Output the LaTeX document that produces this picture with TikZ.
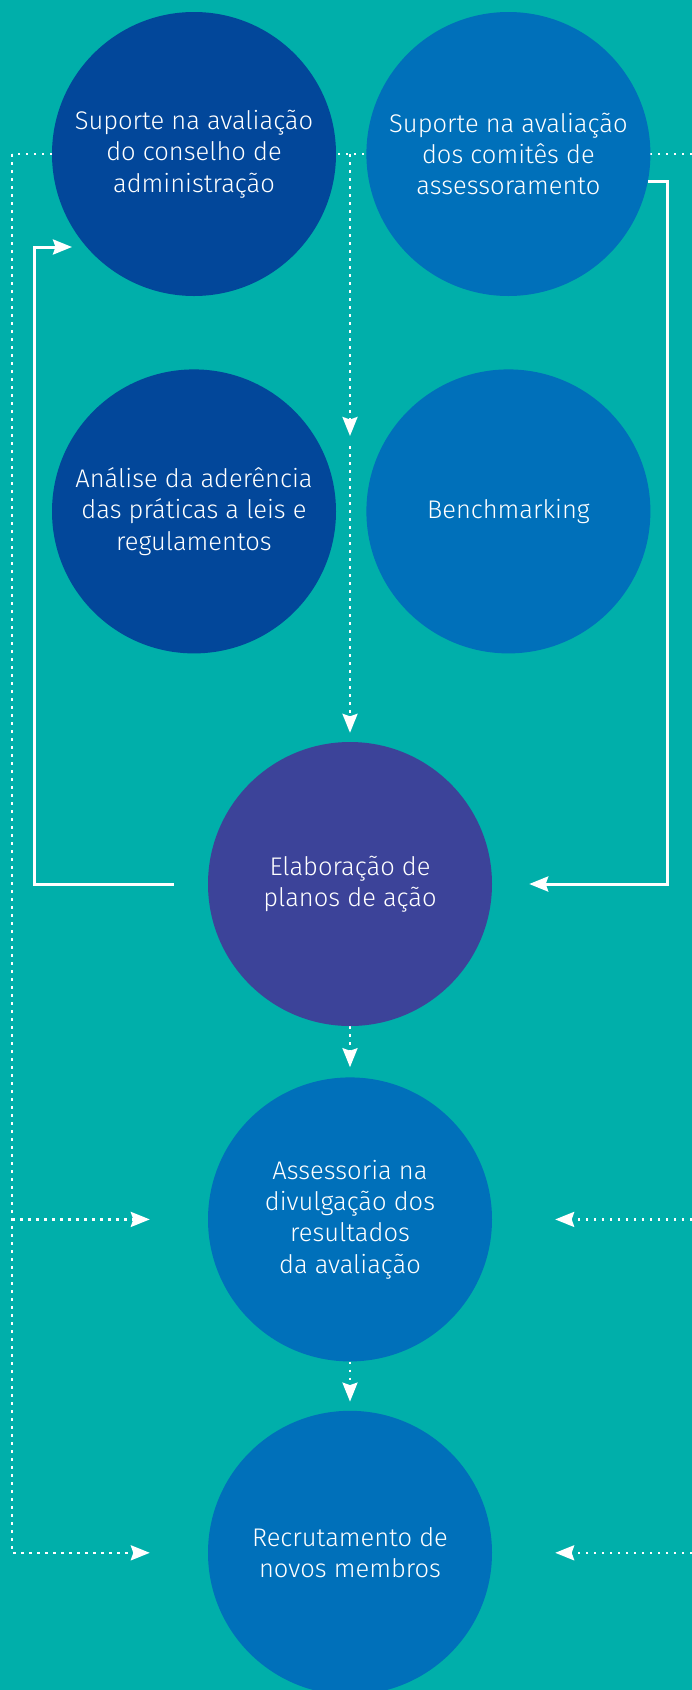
\documentclass[tikz,border=0pt]{standalone}
\usepackage{fontspec}
\setmainfont{Fira Sans}[UprightFont=* Light]
\usepackage{tikz}
\usetikzlibrary{positioning,arrows.meta,backgrounds}
\definecolor{tealBg}{HTML}{00AFAA}
\definecolor{navyBlue}{HTML}{02479A}
\definecolor{midBlue}{HTML}{0070BA}
\definecolor{planPurple}{HTML}{3C4399}
\tikzset{
  stepCircle/.style={
    circle,
    minimum size=284pt,
    inner sep=0pt,
    text=white,
    align=center,
    font=\fontsize{25.5}{31.3}\selectfont
  },
  dotLine/.style={
    draw=white,
    line width=2.5pt,
    dash pattern=on 2.5pt off 5.5pt
  },
  solidLine/.style={
    draw=white,
    line width=3pt
  },
  arrowTip/.style={
    -{Stealth[length=19pt,width=15pt,inset=2.5pt]}
  }
}

\begin{document}
\begin{tikzpicture}[x=1pt,y=-1pt]
        \useasboundingbox (0,0) rectangle (692,1690);

        \node[stepCircle, fill=navyBlue] (boardEval) at (194,154) {Suporte na avaliação\\do conselho de\\administração};
        \node[stepCircle, fill=midBlue, right=30pt of boardEval] (committeeEval) {Suporte na avaliação\\dos comitês de\\assessoramento};
        \node[stepCircle, fill=navyBlue, below=73pt of boardEval] (compliance) {Análise da aderência\\das práticas a leis e\\regulamentos};
        \node[stepCircle, fill=midBlue, below=73pt of committeeEval] (benchmark) {Benchmarking};

        \node[stepCircle, fill=planPurple] (actionPlan) at (350,884) {Elaboração de\\planos de ação};
        \node[stepCircle, fill=midBlue, below=51pt of actionPlan] (disclosure) {Assessoria na\\divulgação dos\\resultados\\da avaliação};
        \node[stepCircle, fill=midBlue, below=49pt of disclosure] (recruiting) {Recrutamento de\\novos membros};

        \coordinate (railLeft) at (12,154);
        \coordinate (railRight) at (692,154);
        \coordinate (midSplit) at (350,154);
        \coordinate (midArrow) at (350,436);
        \coordinate (boardEvalIn) at (72,247);

        \begin{scope}[on background layer]
            \fill[tealBg] (0,0) rectangle (692,1690);
            % dotted rails behind the circles
            \draw[dotLine] (railRight) -- (railLeft);
            \draw[dotLine, arrowTip] (railLeft) |- ([xshift=-58pt]recruiting.west);
            \draw[dotLine, arrowTip] (railLeft |- disclosure) -- ([xshift=-58pt]disclosure.west);
            \draw[dotLine, arrowTip] (railRight |- disclosure) -- ([xshift=63pt]disclosure.east);
            \draw[dotLine, arrowTip] (railRight |- recruiting) -- ([xshift=63pt]recruiting.east);
            \draw[dotLine, arrowTip] (midSplit) -- (midArrow);
            \draw[dotLine, arrowTip] ([yshift=-10pt]midArrow) -- ([yshift=9pt]actionPlan.north);
            \draw[dotLine, arrowTip] (actionPlan.south) -- ([yshift=10pt]disclosure.north);
            \draw[dotLine, arrowTip] (disclosure.south) -- ([yshift=9pt]recruiting.north);
        \end{scope}

        % feedback loops
        \draw[solidLine, arrowTip] ([xshift=-34pt]actionPlan.west) -- ([xshift=-173pt]actionPlan.west) |- (boardEvalIn);
        \draw[solidLine, arrowTip] (committeeEval.-11) -| ([xshift=175pt]actionPlan.east) -- ([xshift=37pt]actionPlan.east);

    \end{tikzpicture}
\end{document}
